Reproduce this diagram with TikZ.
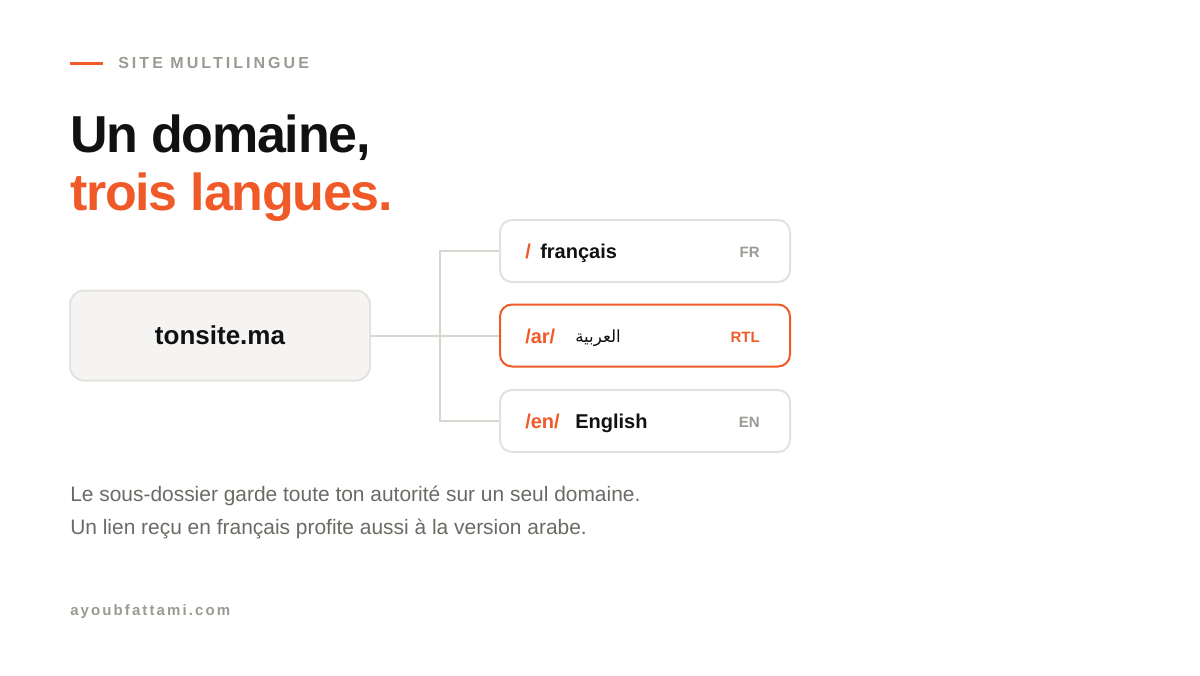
\documentclass[tikz,border=0pt]{standalone}
\usepackage{fontspec}
\usepackage{xcolor}
\usepackage{tikz}
\setmainfont{Liberation Sans}
\newfontfamily\tightfont[LetterSpace=-2.5]{Liberation Sans}
\newfontfamily\widefont[LetterSpace=19]{Liberation Sans}
\newfontfamily\footfont[LetterSpace=14]{Liberation Sans}
\newfontfamily\arabicfont[Script=Arabic]{DejaVu Sans}
\TeXXeTstate=1

\definecolor{accent}{HTML}{F05A28}
\definecolor{ink}{HTML}{111111}
\definecolor{muted}{HTML}{9B9A93}
\definecolor{bodygrey}{HTML}{6B6A65}
\definecolor{boxfill}{HTML}{F5F4F2}
\definecolor{boxline}{HTML}{E4E2DE}
\definecolor{wireline}{HTML}{D9D6CF}

\tikzset{
  txt/.style={anchor=base west, inner sep=0pt},
  sitebox/.style={draw=boxline, fill=boxfill, line width=1.5pt, rounded corners=10.5pt,
    minimum width=225pt, minimum height=67.5pt},
  langbox/.style={draw=boxline, fill=white, line width=1.5pt, rounded corners=9pt,
    minimum width=217.5pt, minimum height=46.5pt},
  wire/.style={draw=wireline, line width=1.5pt},
}

\begin{document}
\begin{tikzpicture}[x=0.75pt,y=-0.75pt]
    \fill[white] (0,0) rectangle (1200,675);

    % heading
    \draw[accent, line width=2.25pt] (70,63) -- (103,63);
    \node[txt, muted] (kicker) at (118,68) {\widefont\fontsize{12}{14}\selectfont\bfseries SITE MULTILINGUE};
    \node[txt, ink] (title1) at (70,152) {\tightfont\fontsize{39}{44}\selectfont\bfseries Un domaine,};
    \node[txt, accent] (title2) at (70,210) {\tightfont\fontsize{39}{44}\selectfont\bfseries trois langues.};

    % domain and its three folders
    \node[sitebox] (site) at (220,335.5) {};
    \node[txt, ink] at (220,344.5) [anchor=base] {\fontsize{19.5}{22}\selectfont\bfseries tonsite.ma};
    \node[langbox] (fr) at (645,251) {};
    \node[langbox, draw=accent] (ar) at (645,335.5) {};
    \node[langbox] (en) at (645,421) {};

    \coordinate (hub) at (440,335.5);
    \draw[wire] (site.east) -- (hub);
    \draw[wire] (hub) |- (fr.west);
    \draw[wire] (hub) |- (en.west);
    \draw[wire] (hub) -- (ar.west);

    \begin{scope}[font=\fontsize{15}{18}\selectfont\bfseries]
      \node[txt, accent] (frpath) at (525,258) {/};
      \node[txt, ink] (frname) at (540,258) {français};
      \node[txt, accent] (arpath) at (525,343) {/ar/};
      \node[txt, ink] (arname) at (575,342) {\arabicfont\mdseries\fontsize{12.5}{15}\selectfont\beginR العربية\endR};
      \node[txt, accent] (enpath) at (525,428) {/en/};
      \node[txt, ink] (enname) at (575,428) {English};
    \end{scope}
    \begin{scope}[font=\fontsize{11.25}{13}\selectfont\bfseries]
      \node[txt, muted, anchor=base east] (frtag) at (760,257) {FR};
      \node[txt, accent, anchor=base east] (artag) at (760,342) {RTL};
      \node[txt, muted, anchor=base east] (entag) at (760,427) {EN};
    \end{scope}

    % caption and footer
    \begin{scope}[font=\fontsize{15.7}{18}\selectfont]
      \node[txt, bodygrey] (line1) at (70,501) {Le sous-dossier garde toute ton autorité sur un seul domaine.};
      \node[txt, bodygrey] (line2) at (70,534) {Un lien reçu en français profite aussi à la version arabe.};
    \end{scope}
    \node[txt, muted] (footer) at (70,615) {\footfont\fontsize{11.25}{13}\selectfont\bfseries ayoubfattami.com};
\end{tikzpicture}
\end{document}
